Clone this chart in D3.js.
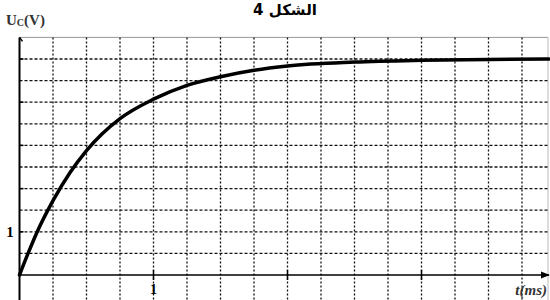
<!DOCTYPE html>
<html>
<head>
<meta charset="utf-8">
<script src="https://cdn.jsdelivr.net/npm/d3@7"></script>
<style>
    body { margin: 0; background: #fff; }
    svg { display: block; }
</style>
</head>
<body>
<div id="viz"></div>
<script>
// Values (t in ms, Uc in V)
const timeValues = [0, 0.06, 0.125, 0.25, 0.375, 0.5, 0.75, 1, 1.25, 1.5, 1.75, 2, 2.5, 3, 3.5, 3.95];
const voltageValues = [0, 0.47, 0.95, 1.72, 2.36, 2.88, 3.62, 4.07, 4.39, 4.59, 4.74, 4.84, 4.93, 4.97, 4.99, 5.0];

const xGridValues = [0.25, 0.5, 0.75, 1, 1.25, 1.5, 1.75, 2, 2.25, 2.5, 2.75, 3, 3.25, 3.5, 3.75];
const yGridValues = [0.5, 1, 1.5, 2, 2.5, 3, 3.5, 4, 4.5, 5];
const xTickValues = [1, 2, 3];
const xTickLabels = ["1", "", ""];
const yTickValues = [1, 2, 3, 4, 5];
const yTickLabels = ["1", "", "", "", ""];

const width = 550;
const height = 300;

const svg = d3.select("#viz").append("svg")
    .attr("width", width)
    .attr("height", height);

// We create the scales (1 ms = 4 divisions, 1 V = 2 divisions)
const x = d3.scaleLinear()
    .domain([0, 4])
    .range([19.5, 555.5]);

const y = d3.scaleLinear()
    .domain([0, 5.5])
    .range([275, 37.4]);

// Light frame around the grid
svg.append("line")
    .attr("x1", x(0)).attr("x2", 548)
    .attr("y1", y(5.5)).attr("y2", y(5.5))
    .attr("stroke", "#999").attr("stroke-width", 1);
svg.append("line")
    .attr("x1", 548).attr("x2", 548)
    .attr("y1", y(5.5)).attr("y2", height)
    .attr("stroke", "#bbb").attr("stroke-width", 1);

// Vertical dotted grid lines, they go below the time axis
svg.append("g")
    .selectAll("line")
    .data(xGridValues)
    .enter()
    .append("line")
    .attr("x1", d => x(d))
    .attr("x2", d => x(d))
    .attr("y1", y(5.5))
    .attr("y2", height)
    .attr("stroke", "#111")
    .attr("stroke-width", 1.3)
    .attr("stroke-dasharray", "2,2");

// Horizontal dashed grid lines
svg.append("g")
    .selectAll("line")
    .data(yGridValues)
    .enter()
    .append("line")
    .attr("x1", x(0))
    .attr("x2", 548)
    .attr("y1", d => y(d))
    .attr("y2", d => y(d))
    .attr("stroke", "#111")
    .attr("stroke-width", 1.3)
    .attr("stroke-dasharray", "3,2");

// Time axis with an arrow on the right
svg.append("defs").append("marker")
    .attr("id", "arrow")
    .attr("viewBox", "0 0 10 10")
    .attr("refX", 9).attr("refY", 5)
    .attr("markerWidth", 7).attr("markerHeight", 7)
    .attr("orient", "auto")
    .append("path")
    .attr("d", "M0,1 L10,5 L0,9 Z")
    .attr("fill", "#000");

svg.append("line")
    .attr("x1", x(0)).attr("x2", 549)
    .attr("y1", y(0)).attr("y2", y(0))
    .attr("stroke", "#000")
    .attr("stroke-width", 1.3)
    .attr("marker-end", "url(#arrow)");

const xAxis = svg.append("g")
    .selectAll("g")
    .data(xTickValues)
    .enter()
    .append("g");
xAxis.append("line")
    .attr("x1", d => x(d)).attr("x2", d => x(d))
    .attr("y1", y(0) - 5).attr("y2", y(0) + 5)
    .attr("stroke", "#000").attr("stroke-width", 1.5);
xAxis.append("text")
    .attr("x", d => x(d))
    .attr("y", y(0) + 19)
    .attr("text-anchor", "middle")
    .attr("font-family", "Liberation Serif")
    .attr("font-weight", "bold")
    .attr("font-size", 14)
    .text((d, i) => xTickLabels[i]);

svg.append("text")
    .attr("x", 547)
    .attr("y", 295)
    .attr("text-anchor", "end")
    .attr("font-family", "Liberation Serif")
    .attr("font-weight", "bold")
    .attr("font-style", "italic")
    .attr("font-size", 15)
    .attr("fill", "#333")
    .text("t(ms)");

// Voltage axis
svg.append("line")
    .attr("x1", x(0)).attr("x2", x(0))
    .attr("y1", y(5.5)).attr("y2", height)
    .attr("stroke", "#000")
    .attr("stroke-width", 2);
svg.append("line")
    .attr("x1", x(0)).attr("x2", x(0) + 3)
    .attr("y1", y(5.5)).attr("y2", y(5.5) + 4)
    .attr("stroke", "#000")
    .attr("stroke-width", 1.5);

const yAxis = svg.append("g")
    .selectAll("g")
    .data(yTickValues)
    .enter()
    .append("g");
yAxis.append("line")
    .attr("x1", x(0)).attr("x2", x(0) + 4)
    .attr("y1", d => y(d)).attr("y2", d => y(d))
    .attr("stroke", "#000").attr("stroke-width", 1.5);
yAxis.append("text")
    .attr("x", 10)
    .attr("y", d => y(d) + 5)
    .attr("text-anchor", "middle")
    .attr("font-family", "Liberation Serif")
    .attr("font-weight", "bold")
    .attr("font-size", 15)
    .text((d, i) => yTickLabels[i]);

const yLabel = svg.append("text")
    .attr("x", 6)
    .attr("y", 25)
    .attr("font-family", "Liberation Serif")
    .attr("font-weight", "bold")
    .attr("font-size", 15)
    .attr("fill", "#333");
yLabel.append("tspan").text("U");
yLabel.append("tspan").attr("font-size", 10).attr("dy", 1).text("C");
yLabel.append("tspan").attr("dy", -1).text("(V)");

// Title
svg.append("text")
    .attr("x", 285)
    .attr("y", 15)
    .attr("text-anchor", "middle")
    .attr("font-family", "DejaVu Sans")
    .attr("font-weight", "bold")
    .attr("font-size", 15)
    .text("الشكل 4");

// Charging curve of the capacitor
const line = d3.line()
    .x((d, i) => x(timeValues[i]))
    .y((d, i) => y(voltageValues[i]))
    .curve(d3.curveMonotoneX);

svg.append("path")
    .datum(timeValues)
    .attr("d", line)
    .attr("fill", "none")
    .attr("stroke", "#000")
    .attr("stroke-width", 3.5)
    .attr("stroke-linecap", "round");
</script>
</body>
</html>
